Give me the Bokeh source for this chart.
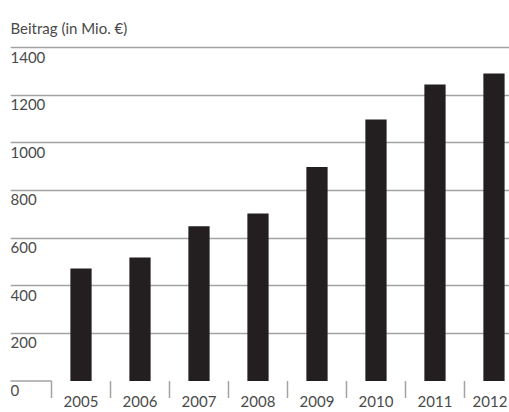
import math
from bokeh.plotting import figure
from bokeh.models import Range1d, FixedTicker, Label
from bokeh.core.properties import value
from bokeh.embed import file_html
from bokeh.resources import INLINE

years = [2005, 2006, 2007, 2008, 2009, 2010, 2011, 2012]
year_labels = ["2005", "2006", "2007", "2008", "2009", "2010", "2011", "2012"]
values = [472, 518, 650, 703, 898, 1098, 1245, 1291]
y_ticks = [0, 200, 400, 600, 800, 1000, 1200, 1400]
y_tick_labels = ["0", "200", "400", "600", "800", "1000", "1200", "1400"]
title_text = "Beitrag (in Mio. €)"

FONT = "Lato"
TEXT_COLOR = "#4a4a4a"
GRID_COLOR = "#a3a3a3"
BAR_COLOR = "#231f20"

x_start, x_end = 2003.805, 2012.263
y_start, y_end = -132.2, 1597.4

p = figure(width=509, height=412, output_backend="svg", toolbar_location=None,
           x_range=Range1d(x_start, x_end), y_range=Range1d(y_start, y_end),
           min_border_left=10, min_border_right=0, min_border_top=0,
           min_border_bottom=0, x_axis_location=None, y_axis_location=None)
p.outline_line_color = None
p.background_fill_color = "white"
p.border_fill_color = "white"

# horizontal gridlines
p.xgrid.visible = False
p.ygrid.ticker = FixedTicker(ticks=[t for t in y_ticks if t > 0])
p.ygrid.grid_line_color = GRID_COLOR
p.ygrid.grid_line_width = 1.5

boundaries = [y - 0.5 for y in years]

# zero line only left of the first category
p.ray(x=[boundaries[0]], y=[y_ticks[0]], length=0, angle=math.pi,
      line_color=GRID_COLOR, line_width=1.5)

# category separators below the baseline
p.ray(x=boundaries, y=[y_ticks[0]] * len(boundaries), length=17,
      length_units="screen", angle=-math.pi / 2,
      line_color=GRID_COLOR, line_width=1.5)

# bars
p.vbar(x=years, top=values, bottom=0, width=0.36, fill_color=BAR_COLOR,
       line_color=None)

# year labels (last one nudged left so it stays inside the window)
x_offsets = [0] * (len(years) - 1) + [-4]
p.text(x=years, y=[y_ticks[0]] * len(years), text=year_labels, y_offset=15,
       x_offset=x_offsets, text_baseline="top", text_align="center",
       text_font=value(FONT), text_font_size="15px", text_color=TEXT_COLOR)

# y tick labels inside the plot, below the gridlines
for yt, lab in zip(y_ticks, y_tick_labels):
    p.add_layout(Label(x=0, y=yt, x_units="screen", y_units="data", text=lab,
                       y_offset=-4, text_baseline="top", text_align="left",
                       text_font=FONT, text_font_size="15px",
                       text_color=TEXT_COLOR))

title = Label(x=0, y=385, x_units="screen", y_units="screen", text=title_text,
              text_baseline="alphabetic", text_align="left", text_font=FONT,
              text_font_size="15px", text_color=TEXT_COLOR)
p.add_layout(title)

open("out.html", "w").write(file_html(p, INLINE))
